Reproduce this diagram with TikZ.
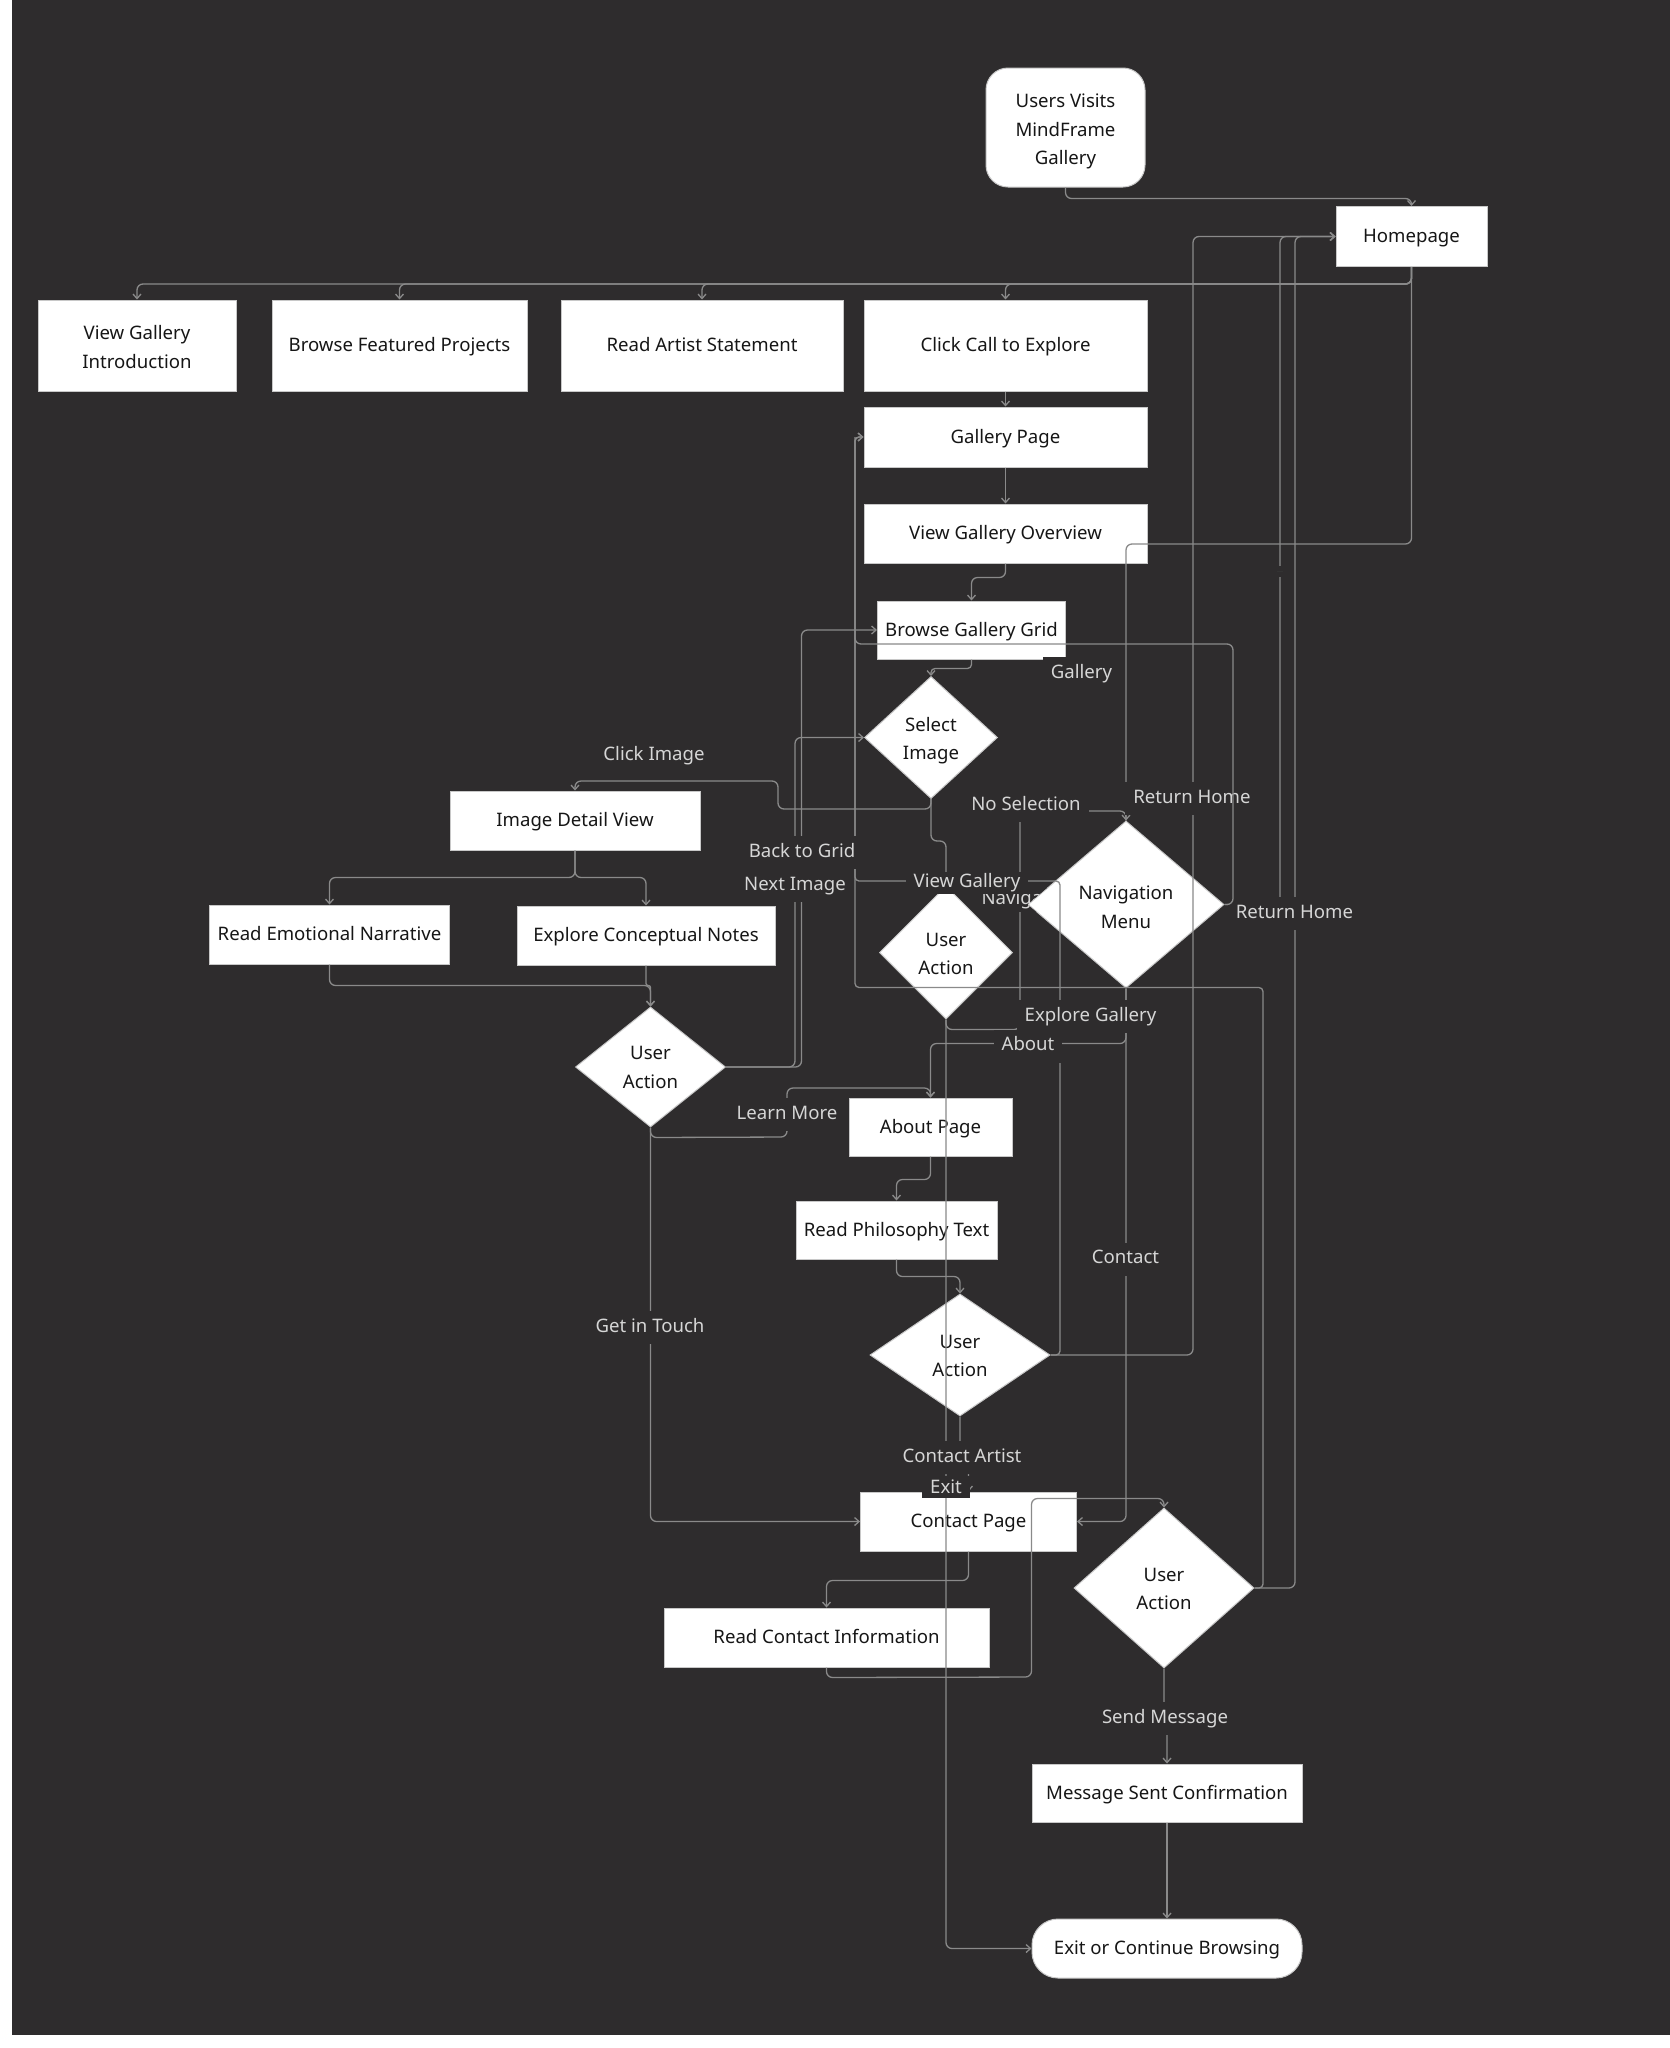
\documentclass[tikz,border=0pt]{standalone}
\usepackage{fontspec}
\setmainfont{Noto Sans}
\usetikzlibrary{shapes.geometric,arrows.meta}
\definecolor{bgc}{HTML}{2E2C2D}
\definecolor{edgec}{HTML}{8A8A8A}
\definecolor{labc}{HTML}{D6D6D6}
\definecolor{boxb}{HTML}{C8C8C8}
\definecolor{ntext}{HTML}{161616}
\newcommand\myfont{\fontsize{18.6}{28.7}\selectfont}
\begin{document}
\begin{tikzpicture}[x=1pt,y=-1pt,
 box/.style={rectangle, draw=boxb, fill=white, line width=1pt, inner sep=0pt, text=ntext, align=center, font=\myfont, text height=12pt, text depth=0pt},
 mbox/.style={rectangle, draw=boxb, fill=white, line width=1pt, inner sep=0pt},
 dia/.style={diamond, draw=boxb, fill=white, line width=1pt, inner sep=0pt},
 txt/.style={text=ntext, align=center, font=\myfont, inner sep=0pt},
 e/.style={draw=edgec, line width=1.3pt, rounded corners=6pt},
 a/.style={e, -{Straight Barb[length=4.5pt,width=8pt]}},
 lab/.style={fill=bgc, text=labc, font=\myfont, inner xsep=8pt, inner ysep=7.5pt, text height=13.5pt, text depth=4.5pt, yshift=-2.5pt},
]
\fill[white] (0,0) rectangle (1670,2048);
\useasboundingbox (0,0) rectangle (1670,2048);
\fill[bgc] (12,0) rectangle (1670,2035);

% nodes
\node[mbox, rounded corners=22pt, minimum width=159pt, minimum height=119pt, label={[txt, yshift=-4pt]center:{Users Visits\\MindFrame\\Gallery}}] (start) at (1065.5,127.5) {};
\node[box, minimum width=151pt, minimum height=60pt] (home) at (1411.5,236.5) {Homepage};
\node[mbox, minimum width=198pt, minimum height=91pt, label={[txt, yshift=-1.5pt]center:{View Gallery\\Introduction}}] (vgi) at (137,345.5) {};
\node[box, minimum width=255pt, minimum height=91pt] (bfp) at (399.5,345.5) {Browse Featured Projects};
\node[box, minimum width=282pt, minimum height=91pt] (ras) at (702,345.5) {Read Artist Statement};
\node[box, minimum width=283pt, minimum height=91pt] (cce) at (1005.5,345.5) {Click Call to Explore};
\node[box, minimum width=283pt, minimum height=60pt] (gp) at (1005.5,437) {Gallery Page};
\node[box, minimum width=283pt, minimum height=59pt] (vgo) at (1005.5,533.5) {View Gallery Overview};
\node[box, minimum width=188pt, minimum height=58pt] (bgg) at (971.5,630) {Browse Gallery Grid};
\node[dia, minimum width=133pt, minimum height=122pt, label={[txt, yshift=-3.3pt]center:{Select\\Image}}] (si) at (931,737.5) {};
\node[box, minimum width=250pt, minimum height=59pt] (idv) at (575,820.5) {Image Detail View};
\node[box, minimum width=240pt, minimum height=59pt] (ren) at (329.5,934.5) {Read Emotional Narrative};
\node[box, minimum width=258pt, minimum height=59pt] (ecn) at (646,935.5) {Explore Conceptual Notes};
\node[dia, minimum width=150pt, minimum height=120pt, label={[txt, yshift=-0.3pt]center:{User\\Action}}] (ua1) at (650.5,1067) {};
\node[dia, minimum width=133pt, minimum height=133pt, label={[txt, yshift=-1.5pt]center:{User\\Action}}] (ua2) at (946,952.5) {};
\node[dia, minimum width=196pt, minimum height=167pt, label={[txt, yshift=-3pt]center:{Navigation\\Menu}}] (nav) at (1126,904.5) {};
\node[box, minimum width=163pt, minimum height=58pt] (about) at (930.5,1127) {About Page};
\node[box, minimum width=201pt, minimum height=58pt] (rpt) at (896.5,1230) {Read Philosophy Text};
\node[dia, minimum width=180pt, minimum height=122pt, label={[txt, yshift=-1pt]center:{User\\Action}}] (ua3) at (960,1355) {};
\node[box, minimum width=216pt, minimum height=59pt] (cp) at (968.5,1521.5) {Contact Page};
\node[dia, minimum width=180pt, minimum height=160pt, label={[txt, yshift=-1pt]center:{User\\Action}}] (ua4) at (1164,1588) {};
\node[box, minimum width=325pt, minimum height=59pt] (rci) at (826.5,1637.5) {Read Contact Information};
\node[box, minimum width=270pt, minimum height=58pt] (msc) at (1167,1793) {Message Sent Confirmation};
\node[box, rounded corners=26pt, minimum width=270pt, minimum height=59pt] (exit) at (1167,1948.5) {Exit or Continue Browsing};

% edges
\draw[a] (start.south) -- ++(0,11) -| (home.north);
\draw[a] (home.south) -- ++(0,17) -| (vgi.north);
\draw[a] (home.south) -- ++(0,17) -| (bfp.north);
\draw[a] (home.south) -- ++(0,17) -| (ras.north);
\draw[a] (home.south) -- ++(0,17) -| (cce.north);
\draw[a] (cce.south) -- (gp.north);
\draw[a] (gp.south) -- (vgo.north);
\draw[a] (vgo.south) -- ++(0,14) -| (bgg.north);
\draw[a, rounded corners=4pt] (bgg.south) -- ++(0,9) -| (si.north);
\draw[a] (si.south) -- ++(0,10) -| (778,781) -| (idv.north);
\draw[a] (si.south) -- ++(0,42) -| (ua2.north);
\draw[a] (ua2.south) -- ++(0,10) -| (1020,811) -| (nav.north);
\draw[e] (home.south) -- (1411.5,544) -| (nav.north);
\draw[a] (idv.south) -- ++(0,27) -| (ren.north);
\draw[a] (idv.south) -- ++(0,27) -| (ecn.north);
\draw[a] (ren.south) -- ++(0,21) -| (ua1.north);
\draw[a, rounded corners=2pt] (ecn.south) -- ++(0,20) -| (ua1.north);
\draw[a] (ua1.east) -- (795,1067) -- (795,737.5) -- (si.west);
\draw[a] (ua1.east) -- (801.5,1067) -- (801.5,630) -- (bgg.west);
\draw[a] (ua1.south) -- ++(0,10) -- (787,1137) -- (787,1088) -- (930.5,1088) -- (about.north);
\draw[a] (ua1.south) |- (cp.west);
\draw[a, rounded corners=4pt] (ua3.east) -- (1060,1355) -- (1060,881) -- (855,881) -- (855,437) -- (gp.west);
\draw[a, rounded corners=4pt] (ua4.east) -- (1263,1588) -- (1263,987.5) -- (855,987.5) -- (855,437) -- (gp.west);
\draw[a] (nav.south) -- (1126,1043.5) -- (930.5,1043.5) -- (about.north);
\draw[a] (nav.south) |- (cp.east);
\draw[a] (ua3.east) -- (1193,1355) -- (1193,236.5) -- (home.west);
\draw[a] (nav.east) -- (1280,904.5) -- (1280,236.5) -- (home.west);
\draw[a] (ua4.east) -- (1295,1588) -- (1295,236.5) -- (home.west);
\draw[a] (about.south) -- ++(0,23) -| (rpt.north);
\draw[a] (rpt.south) -- ++(0,17) -| (ua3.north);
\draw[a, rounded corners=3pt] (ua3.south) -- (960,1470) -- (968.5,1470) -- (cp.north);
\draw[a] (ua2.south) |- (exit.west);
\draw[a] (cp.south) -- ++(0,29) -| (rci.north);
\draw[a] (rci.south) -- ++(0,10) -- (1031.5,1677) -- (1031.5,1498.5) -- (1164,1498.5) -- (ua4.north);
\draw[a, rounded corners=2pt] (ua4.south) -- (1164,1716) -- (1167,1716) -- (msc.north);
\draw[a] (msc.south) -- (exit.north);

% small mark on a line
\node[fill=bgc, minimum width=6pt, minimum height=11pt, inner sep=0pt] (tick) at (1280,571) {};
\draw[draw=black!80, line width=1pt] (tick.west) -- (tick.east);

% labels
\begin{scope}
\clip (900,800) -- (nav.north) -- (nav.west) -- (nav.south) -- (900,1000) -- cycle;
\node[lab, inner ysep=3pt] (lnav) at (1020.5,897) {Navigate};
\end{scope}
\node[lab] (l1) at (654,753.5) {Click Image};
\node[lab] (l2) at (1026,803) {No Selection};
\node[lab] (l3) at (1192,796) {Return Home};
\node[lab] (l4) at (1081.5,671) {Gallery};
\node[lab] (l5) at (802,850) {Back to Grid};
\node[lab] (l6) at (795,883) {Next Image};
\node[lab, inner ysep=2pt] (l7) at (967,880) {View Gallery};
\node[lab] (l8) at (1090.5,1014) {Explore Gallery};
\node[lab] (l9) at (1028,1043.5) {About};
\node[lab] (l10) at (787,1112) {Learn More};
\node[lab] (l11) at (650,1325) {Get in Touch};
\node[lab] (l12) at (1125.5,1256.5) {Contact};
\node[lab] (l13) at (962,1455) {Contact Artist};
\node[lab, inner ysep=4pt, text depth=0pt, yshift=2.5pt] (l14) at (946,1487) {Exit};
\node[lab] (l15) at (1294.5,911) {Return Home};
\node[lab] (l16) at (1165,1716) {Send Message};
\draw[e] (nav.east) -- (1233,904.5) -- (1233,644) -- (855,644) -- (855,437);
\end{tikzpicture}
\end{document}
